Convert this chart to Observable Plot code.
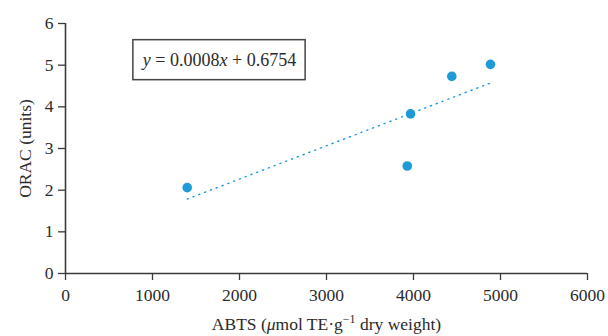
<!DOCTYPE html>
<html>
<head>
<meta charset="utf-8">
<script src="https://cdn.jsdelivr.net/npm/d3@7"></script>
<script src="https://cdn.jsdelivr.net/npm/@observablehq/plot@0.6"></script>
<style>
  html, body { margin: 0; padding: 0; background: #fff; }
  #chart svg { display: block; }
</style>
</head>
<body>
<div id="chart"></div>
<script>
// Data
const abts = [1399, 3928, 3966, 4440, 4885];
const orac = [2.06, 2.58, 3.83, 4.73, 5.02];
const xTicks = [0, 1000, 2000, 3000, 4000, 5000, 6000];
const yTicks = [0, 1, 2, 3, 4, 5, 6];
const xLabel = "ABTS (\u03bcmol TE\u00b7g\u207b\u00b9 dry weight)";
const yLabel = "ORAC (units)";
const equation = "y = 0.0008x + 0.6754";
// annotation box extent in data units
const boxX = [780, 2760];
const boxY = [4.64, 5.6];

const data = abts.map((x, i) => ({x, y: orac[i]}));
const box = [{x1: boxX[0], x2: boxX[1], y1: boxY[0], y2: boxY[1], label: equation}];

const axisColor = "#3a3a3a";
const font = "Liberation Serif, Times New Roman, serif";
const dotColor = "#1c9bd8";

const chart = Plot.plot({
  width: 608,
  height: 336,
  marginLeft: 65,
  marginRight: 21,
  marginTop: 23,
  marginBottom: 63,
  style: {fontFamily: font, fontSize: "17.5px", color: "#2b2b2b", background: "#fff"},
  x: {domain: [0, 6000]},
  y: {domain: [0, 6]},
  marks: [
    Plot.axisX({ticks: xTicks, tickFormat: d => String(d), tickSize: 7, tickPadding: 8, stroke: axisColor, strokeWidth: 1.3,
      label: xLabel, labelAnchor: "center", labelArrow: "none", labelOffset: 56, fontSize: 17.5}),
    Plot.axisY({ticks: yTicks, tickFormat: d => String(d), tickSize: 7, tickPadding: 5, stroke: axisColor, strokeWidth: 1.3,
      label: yLabel, labelAnchor: "center", labelArrow: "none", labelOffset: 47, fontSize: 17.5}),
    Plot.ruleY([0], {stroke: axisColor, strokeWidth: 1.6}),
    Plot.ruleX([0], {stroke: axisColor, strokeWidth: 1.6}),
    Plot.rect(box, {x1: "x1", x2: "x2", y1: "y1", y2: "y2", fill: "#fff", stroke: "#444", strokeWidth: 1.5}),
    Plot.text(box, {x: d => (d.x1 + d.x2) / 2, y: d => (d.y1 + d.y2) / 2, text: "label", fontSize: 18, fill: "#2b2b2b", className: "eq"}),
    Plot.linearRegressionY(data, {x: "x", y: "y", stroke: dotColor, strokeWidth: 1.4, strokeDasharray: "1.2,5", ci: 0}),
    Plot.dot(data, {x: "x", y: "y", r: 4.8, fill: dotColor, stroke: "none"})
  ]
});

document.getElementById("chart").appendChild(chart);

// italicise the variables in the equation
d3.select(chart).selectAll("g.eq text").each(function() {
  const t = d3.select(this);
  const s = t.text();
  t.text(null);
  s.split(/([xy])/).filter(p => p.length).forEach(p => {
    const ts = t.append("tspan").text(p);
    if (p === "x" || p === "y") ts.attr("font-style", "italic");
  });
});

// typeset the x-axis label: italic mu and a real superscript
d3.select(chart).selectAll("text").filter(function() { return this.textContent === xLabel; }).each(function() {
  const t = d3.select(this);
  t.text(null);
  t.append("tspan").text("ABTS (");
  t.append("tspan").attr("font-style", "italic").text("\u03bc");
  t.append("tspan").text("mol TE\u00b7g");
  t.append("tspan").attr("font-size", "12px").attr("dy", "-7").text("\u22121");
  t.append("tspan").attr("dy", "7").text(" dry weight)");
});
</script>
</body>
</html>
